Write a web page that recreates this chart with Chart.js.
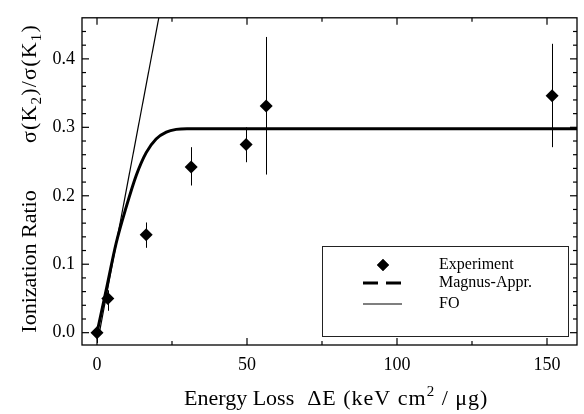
<!DOCTYPE html>
<html><head><meta charset="utf-8">
<script src="https://cdn.jsdelivr.net/npm/chart.js@4"></script>
<style>html,body{margin:0;padding:0;background:#fff}#wrap{width:584px;height:414px}</style>
</head><body><div id="wrap"><canvas id="c" width="584" height="414"></canvas></div>
<script>
// ---- data ----
const expX = [0, 3.6, 16.4, 31.4, 49.7, 56.4, 151.7];
const expY = [0.000, 0.050, 0.143, 0.242, 0.275, 0.331, 0.346];
const expErrLow = [-0.015, 0.032, 0.124, 0.215, 0.249, 0.231, 0.271];
const expErrHigh = [0.010, 0.062, 0.161, 0.271, 0.300, 0.432, 0.422];
const magnusX = [0, 3, 6.4, 9.7, 13.1, 16.4, 19.7, 23.1, 26.4, 30, 40, 160];
const magnusY = [0, 0.061, 0.131, 0.183, 0.230, 0.263, 0.283, 0.293, 0.297, 0.298, 0.298, 0.298];
const foX = [0.8, 20.6];
const foY = [0.0, 0.46];
const xMajorTicks = [0, 50, 100, 150];
const xMinorTicks = [25, 75, 125];
const yMajorTicks = [0.0, 0.1, 0.2, 0.3, 0.4];
const yMinorTicks = [0.02, 0.04, 0.06, 0.08, 0.12, 0.14, 0.16, 0.18, 0.22, 0.24, 0.26, 0.28, 0.32, 0.34, 0.36, 0.38, 0.42, 0.44];
const legendLabels = ['Experiment', 'Magnus-Appr.', 'FO'];
// axis title pieces: [text, script]  (1 = superscript, -1 = subscript)
const xTitleA = 'Energy Loss';
const xTitleB = [['\u0394E (keV cm', 0], ['2', 1], [' / \u03BCg)', 0]];
const yTitleA = 'Ionization Ratio';
const yTitleB = [['\u03C3(K', 0], ['2', -1], [')/\u03C3(K', 0], ['1', -1], [')', 0]];

const SERIF = '"Liberation Serif", "Times New Roman", serif';

function pts(xs, ys){ return xs.map((x,i)=>({x:x, y:ys[i]})); }

function pieceWidth(ctx, pieces, size, spacing){
  let w = 0;
  pieces.forEach(([t, s])=>{
    ctx.font = (s ? Math.round(size*0.68) : size) + 'px ' + SERIF;
    ctx.letterSpacing = spacing + 'px';
    w += ctx.measureText(t).width;
  });
  return w;
}
function drawPieces(ctx, pieces, u, v, size, spacing){
  pieces.forEach(([t, s])=>{
    ctx.font = (s ? Math.round(size*0.68) : size) + 'px ' + SERIF;
    ctx.letterSpacing = spacing + 'px';
    const dv = s === 1 ? -size*0.42 : (s === -1 ? size*0.22 : 0);
    ctx.fillText(t, u, v + dv);
    u += ctx.measureText(t).width;
  });
}

const axisTitles = {
  id:'axisTitles',
  afterDraw(chart){
    const {ctx, scales:{x, y}} = chart;
    ctx.save();
    ctx.fillStyle = '#000';
    ctx.textAlign = 'left'; ctx.textBaseline = 'alphabetic';
    // x title
    const xs = 22;
    ctx.font = xs + 'px ' + SERIF; ctx.letterSpacing = '0px';
    const xa0 = x.getPixelForValue(29);
    ctx.fillText(xTitleA, xa0, 405);
    const gap = 13;
    const xb0 = xa0 + ctx.measureText(xTitleA).width + gap;
    drawPieces(ctx, xTitleB, xb0, 405, xs, 1);
    // y title (rotated)
    const ys = 22;
    ctx.translate(36, 0);
    ctx.rotate(-Math.PI/2);
    ctx.font = ys + 'px ' + SERIF; ctx.letterSpacing = '0px';
    const yStart = y.getPixelForValue(0);
    ctx.fillText(yTitleA, -yStart, 0);
    const yEnd = 24;
    const ybW = pieceWidth(ctx, yTitleB, ys, 1.2);
    drawPieces(ctx, yTitleB, -(yEnd + ybW), 0, ys, 1.2);
    ctx.restore();
  }
};

const errorBars = {
  id:'errorBars',
  beforeDatasetsDraw(chart){
    const {ctx, chartArea:a, scales:{x, y}} = chart;
    ctx.save();
    ctx.strokeStyle = '#000'; ctx.lineWidth = 1;
    ctx.beginPath();
    ctx.rect(a.left, a.top, a.right-a.left, a.bottom-a.top);
    ctx.clip();
    expX.forEach((v,i)=>{
      const px = Math.round(x.getPixelForValue(v)) + 0.5;
      ctx.beginPath();
      ctx.moveTo(px, y.getPixelForValue(expErrLow[i]));
      ctx.lineTo(px, y.getPixelForValue(expErrHigh[i]));
      ctx.stroke();
    });
    ctx.restore();
  }
};

const frameTicks = {
  id:'frameTicks',
  afterDatasetsDraw(chart){
    const {ctx, chartArea:a, scales:{x, y}} = chart;
    ctx.save();
    ctx.strokeStyle = '#000';
    ctx.lineWidth = 1.3;
    ctx.strokeRect(a.left, a.top, a.right-a.left, a.bottom-a.top);
    ctx.lineWidth = 1.2;
    const drawX = (vals, len) => vals.forEach(v=>{
      const px = x.getPixelForValue(v);
      ctx.beginPath(); ctx.moveTo(px, a.bottom); ctx.lineTo(px, a.bottom-len); ctx.stroke();
      ctx.beginPath(); ctx.moveTo(px, a.top); ctx.lineTo(px, a.top+len); ctx.stroke();
    });
    const drawY = (vals, len) => vals.forEach(v=>{
      const py = y.getPixelForValue(v);
      ctx.beginPath(); ctx.moveTo(a.left, py); ctx.lineTo(a.left+len, py); ctx.stroke();
      ctx.beginPath(); ctx.moveTo(a.right, py); ctx.lineTo(a.right-len, py); ctx.stroke();
    });
    drawX(xMajorTicks, 7); drawX(xMinorTicks, 4);
    drawY(yMajorTicks, 7); drawY(yMinorTicks, 4);
    ctx.restore();
  }
};

const boxLegend = {
  id:'boxLegend',
  afterDraw(chart){
    const {ctx, chartArea:a} = chart;
    const lw = 246, lh = 90;
    const lx = a.right - 9 - lw, ly = a.bottom - 9 - lh;
    ctx.save();
    ctx.fillStyle = '#fff';
    ctx.fillRect(lx, ly, lw, lh);
    ctx.strokeStyle = '#222'; ctx.lineWidth = 1;
    ctx.strokeRect(lx+0.5, ly+0.5, lw, lh);
    const sx0 = lx + 41, sx1 = lx + 80, mx = lx + 61, tx = lx + 117;
    const rows = [ly+19, ly+37, ly+58];
    ctx.fillStyle = '#000';
    Chart.helpers.drawPoint(ctx, {pointStyle:'rectRot', radius:6, borderWidth:0}, mx, rows[0]);
    ctx.fill();
    ctx.strokeStyle = '#000';
    ctx.lineWidth = 3; ctx.setLineDash([15, 8]);
    ctx.beginPath(); ctx.moveTo(sx0, rows[1]); ctx.lineTo(sx1, rows[1]); ctx.stroke();
    ctx.setLineDash([]);
    ctx.lineWidth = 1.2;
    ctx.beginPath(); ctx.moveTo(sx0, rows[2]); ctx.lineTo(sx1, rows[2]); ctx.stroke();
    ctx.font = '16px ' + SERIF;
    ctx.textBaseline = 'middle'; ctx.textAlign = 'left';
    legendLabels.forEach((t,i)=> ctx.fillText(t, tx, rows[i]));
    ctx.restore();
  }
};

new Chart(document.getElementById('c'), {
  type:'scatter',
  data:{
    datasets:[
      {label:legendLabels[0], data:pts(expX, expY), showLine:false, pointStyle:'rectRot', pointRadius:6.5,
       backgroundColor:'#000', borderColor:'#000', borderWidth:0, order:0},
      {label:legendLabels[1], data:pts(magnusX, magnusY), showLine:true, pointRadius:0, borderColor:'#000',
       borderWidth:3, cubicInterpolationMode:'monotone', order:1},
      {label:legendLabels[2], data:pts(foX, foY), showLine:true, pointRadius:0, borderColor:'#000',
       borderWidth:1.2, order:2}
    ]
  },
  options:{
    animation:false, responsive:false, devicePixelRatio:1,
    layout:{padding:{left:0, right:7, top:8, bottom:0}},
    plugins:{legend:{display:false}, tooltip:{enabled:false}},
    scales:{
      x:{type:'linear', min:-5, max:160,
         grid:{display:false, drawTicks:false}, border:{display:false},
         afterBuildTicks:s=>{ s.ticks = xMajorTicks.map(v=>({value:v})); },
         afterFit:s=>{ s.height = 69; },
         ticks:{padding:9, color:'#000', font:{family:SERIF, size:18}, maxRotation:0, autoSkip:false,
                callback:v=>String(v)},
         title:{display:false}
      },
      y:{type:'linear', min:-0.018, max:0.46,
         grid:{display:false, drawTicks:false}, border:{display:false},
         afterBuildTicks:s=>{ s.ticks = yMajorTicks.map(v=>({value:v})); },
         afterFit:s=>{ s.width = 82; },
         ticks:{padding:7, color:'#000', font:{family:SERIF, size:18}, autoSkip:false,
                callback:v=>Number(v).toFixed(1)},
         title:{display:false}
      }
    }
  },
  plugins:[errorBars, frameTicks, boxLegend, axisTitles]
});
</script>
</body></html>
